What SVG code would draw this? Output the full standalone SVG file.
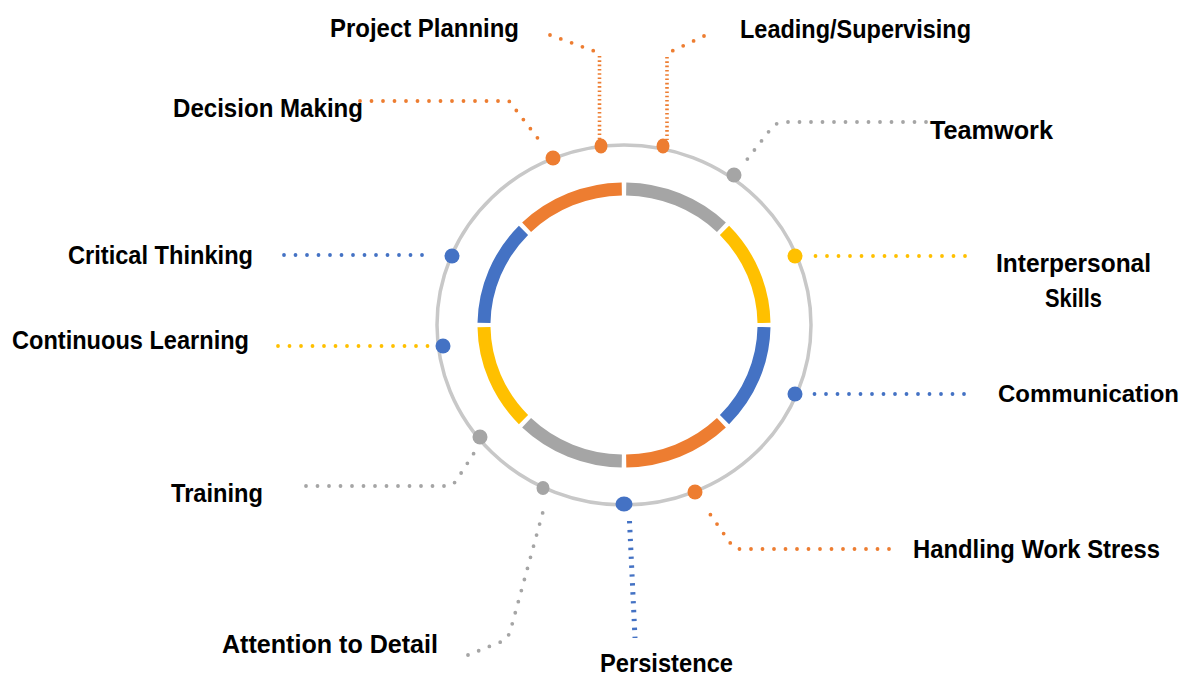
<svg xmlns="http://www.w3.org/2000/svg" width="1190" height="677" viewBox="0 0 1190 677">
<style>
.lbl{font-family:"Liberation Sans",Arial,sans-serif;font-weight:700;font-size:26px;fill:#000}
.seg{fill:none;stroke-width:13;stroke-linecap:butt}
.dl{fill:none;stroke-width:3.8;stroke-linecap:round;stroke-dasharray:0 11.5;stroke-linejoin:round}
.vl{fill:none;stroke-width:3.6;stroke-linecap:butt;stroke-dasharray:1.6 2.7}
.pl{fill:none;stroke-width:5;stroke-linecap:butt;stroke-dasharray:2.4 6.5}
.o{stroke:#ED7D31}.g{stroke:#A5A5A5}.y{stroke:#FFC000}.b{stroke:#4472C4}
.fo{fill:#ED7D31}.fg{fill:#A5A5A5}.fy{fill:#FFC000}.fb{fill:#4472C4}
</style>
<rect width="1190" height="677" fill="#fff"/>
<g id="ring">
<ellipse cx="624" cy="325" rx="187" ry="180" fill="none" stroke="#C8C8C8" stroke-width="3.5"/>
<path class="seg g" d="M626.2 189 A140 136 0 0 1 721.4 227.3"/>
<path class="seg y" d="M724.5 230.4 A140 136 0 0 1 764 322.9"/>
<path class="seg b" d="M764 327.1 A140 136 0 0 1 724.5 419.6"/>
<path class="seg o" d="M721.4 422.7 A140 136 0 0 1 626.2 461"/>
<path class="seg g" d="M621.8 461 A140 136 0 0 1 526.6 422.7"/>
<path class="seg y" d="M523.5 419.6 A140 136 0 0 1 484 327.1"/>
<path class="seg b" d="M484 322.9 A140 136 0 0 1 523.5 230.4"/>
<path class="seg o" d="M526.6 227.3 A140 136 0 0 1 621.8 189"/>
</g>
<g id="connectors">
<path class="dl o" d="M360 101 L509 101 L543 145"/>
<path class="dl o" d="M550 35 L594 51"/>
<path class="vl o" d="M599.5 56 L599.5 140"/>
<path class="dl o" d="M704 36 L670 52"/>
<path class="vl o" d="M667 57 L667 140"/>
<path class="dl g" d="M926 122 L785 122 Q775 122 770 130 L742 166"/>
<path class="dl y" d="M965 256 L811 256"/>
<path class="dl b" d="M964 394 L813 394"/>
<path class="dl o" d="M889 549 L740 549 Q734 549 731 544 L705 507"/>
<path class="pl b" d="M629.5 521 L635 638"/>
<path class="dl g" d="M468 655 L498 643 Q507 640 510 632 L544 508"/>
<path class="dl g" d="M306 486 L446 486 Q452 486 456 481 L474 453"/>
<path class="dl y" d="M278 346 L430 346"/>
<path class="dl b" d="M284 255 L433 255"/>
</g>
<g id="node-project-planning"><ellipse cx="601" cy="146" rx="6.5" ry="7.5" class="fo"/><text class="lbl" x="330" y="37" textLength="189" lengthAdjust="spacingAndGlyphs">Project Planning</text></g>
<g id="node-leading"><ellipse cx="663" cy="146" rx="6.5" ry="7.5" class="fo"/><text class="lbl" x="740" y="38" textLength="231" lengthAdjust="spacingAndGlyphs">Leading/Supervising</text></g>
<g id="node-decision-making"><circle cx="553" cy="158" r="7.5" class="fo"/><text class="lbl" x="173" y="117" textLength="190" lengthAdjust="spacingAndGlyphs">Decision Making</text></g>
<g id="node-teamwork"><circle cx="734" cy="175" r="7.5" class="fg"/><text class="lbl" x="930" y="139" textLength="123" lengthAdjust="spacingAndGlyphs">Teamwork</text></g>
<g id="node-interpersonal"><circle cx="795" cy="256" r="7.5" class="fy"/><text class="lbl" text-anchor="middle"><tspan x="1073.5" y="272" textLength="155" lengthAdjust="spacingAndGlyphs">Interpersonal</tspan><tspan x="1073.5" y="307" textLength="57" lengthAdjust="spacingAndGlyphs">Skills</tspan></text></g>
<g id="node-communication"><circle cx="795" cy="394" r="7.5" class="fb"/><text class="lbl" x="998" y="402" style="font-size:24px" textLength="181" lengthAdjust="spacingAndGlyphs">Communication</text></g>
<g id="node-handling-work-stress"><circle cx="695" cy="492" r="7.5" class="fo"/><text class="lbl" x="913" y="558" textLength="247" lengthAdjust="spacingAndGlyphs">Handling Work Stress</text></g>
<g id="node-persistence"><ellipse cx="624" cy="504" rx="8.5" ry="7.5" class="fb"/><text class="lbl" x="600" y="672" textLength="133" lengthAdjust="spacingAndGlyphs">Persistence</text></g>
<g id="node-attention-to-detail"><ellipse cx="543" cy="488" rx="6.5" ry="7" class="fg"/><text class="lbl" x="222" y="653" textLength="216" lengthAdjust="spacingAndGlyphs">Attention to Detail</text></g>
<g id="node-training"><circle cx="480" cy="437" r="7.5" class="fg"/><text class="lbl" x="171" y="502" textLength="92" lengthAdjust="spacingAndGlyphs">Training</text></g>
<g id="node-continuous-learning"><circle cx="443" cy="346" r="7.5" class="fb"/><text class="lbl" x="12" y="349" textLength="237" lengthAdjust="spacingAndGlyphs">Continuous Learning</text></g>
<g id="node-critical-thinking"><circle cx="452" cy="256" r="7.5" class="fb"/><text class="lbl" x="68" y="264" textLength="185" lengthAdjust="spacingAndGlyphs">Critical Thinking</text></g>
</svg>
